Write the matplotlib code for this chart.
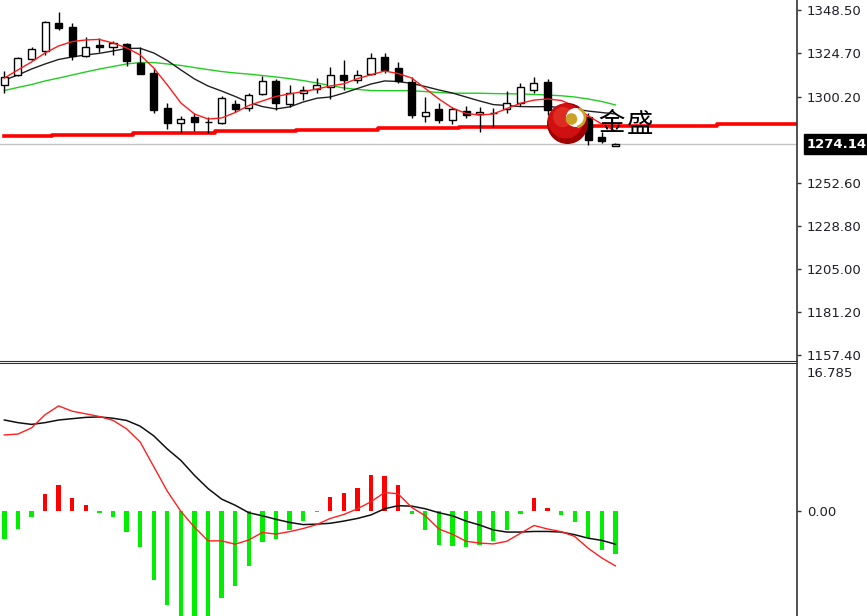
import numpy as np
import matplotlib
matplotlib.use("Agg")
import matplotlib.pyplot as plt
from matplotlib.patches import Circle, Arc
from matplotlib.transforms import blended_transform_factory

plt.rcParams['font.family'] = ['DejaVu Sans', 'Noto Sans CJK SC']

# candles (daily)
opens = [1306.9, 1312.5, 1321.2, 1326.0, 1341.1, 1339.2, 1323.0, 1328.9, 1328.2, 1329.7,
         1319.3, 1313.4, 1294.0, 1286.1, 1289.1, 1286.3, 1285.7, 1296.4, 1294.0, 1302.0,
         1309.3, 1296.4, 1302.7, 1304.6, 1306.0, 1312.5, 1309.7, 1313.0, 1322.3, 1316.2,
         1308.8, 1289.8, 1293.5, 1287.6, 1292.5, 1290.7, 1291.3, 1293.5, 1297.1, 1304.2,
         1308.8, 1292.9, 1290.5, 1289.4, 1278.0, 1273.2]
highs = [1314.9, 1322.5, 1328.2, 1342.4, 1347.6, 1341.5, 1333.4, 1332.8, 1331.2, 1330.3,
         1327.8, 1316.2, 1297.1, 1289.8, 1291.3, 1289.4, 1300.9, 1298.9, 1302.3, 1311.9,
         1310.1, 1307.0, 1306.4, 1310.7, 1317.1, 1320.8, 1315.3, 1324.9, 1324.6, 1319.9,
         1311.5, 1300.5, 1296.8, 1294.9, 1295.3, 1294.6, 1294.0, 1303.8, 1307.9, 1311.2,
         1310.1, 1296.0, 1295.5, 1291.3, 1281.1, 1274.6]
lows = [1302.3, 1312.0, 1320.8, 1323.6, 1337.4, 1320.8, 1322.3, 1325.4, 1323.6, 1317.5,
        1313.0, 1291.6, 1282.4, 1280.5, 1281.6, 1280.5, 1285.3, 1292.2, 1292.7, 1301.4,
        1293.1, 1294.6, 1298.6, 1302.7, 1299.0, 1304.2, 1308.2, 1312.5, 1313.8, 1308.2,
        1288.5, 1286.6, 1286.1, 1285.3, 1288.5, 1281.1, 1283.5, 1291.3, 1295.3, 1302.7,
        1290.3, 1287.5, 1287.0, 1273.7, 1274.6, 1273.2]
closes = [1311.2, 1322.1, 1326.7, 1342.0, 1338.4, 1323.0, 1327.8, 1327.8, 1330.1, 1320.3,
          1313.0, 1293.1, 1286.1, 1287.9, 1286.6, 1286.5, 1299.6, 1293.5, 1301.4, 1309.3,
          1296.8, 1302.4, 1304.2, 1307.0, 1312.5, 1309.7, 1312.5, 1321.7, 1315.3, 1309.2,
          1290.3, 1292.2, 1287.6, 1293.5, 1290.3, 1292.2, 1291.5, 1296.8, 1305.7, 1308.2,
          1292.9, 1290.0, 1294.0, 1276.4, 1276.1, 1274.14]

ma_fast = [1310.8, 1315.3, 1319.7, 1324.7, 1328.6, 1331.0, 1331.9, 1332.2, 1330.2, 1327.5,
           1323.6, 1316.4, 1307.0, 1297.0, 1290.9, 1288.1, 1288.7, 1291.7, 1295.6, 1298.1,
           1300.6, 1302.0, 1303.3, 1304.7, 1306.4, 1307.6, 1310.5, 1312.6, 1314.7, 1313.3,
           1310.8, 1305.0, 1299.2, 1294.2, 1291.2, 1290.3, 1290.9, 1293.9, 1296.8, 1298.6,
           1299.2, 1298.4, 1295.3, 1289.8, 1285.3, 1281.5]
ma_mid = [1309.7, 1312.5, 1315.8, 1318.6, 1321.1, 1322.5, 1323.6, 1324.5, 1325.8, 1327.2,
          1327.3, 1324.7, 1320.5, 1315.3, 1310.3, 1306.4, 1303.6, 1300.6, 1297.3, 1295.0,
          1293.7, 1294.8, 1297.5, 1299.6, 1300.3, 1302.5, 1305.0, 1307.5, 1309.2, 1308.9,
          1307.8, 1306.1, 1304.2, 1302.5, 1300.3, 1298.1, 1296.1, 1295.6, 1295.0, 1294.9,
          1295.0, 1294.5, 1293.7, 1292.5, 1291.7, 1290.9]
ma_slow = [1303.9, 1305.6, 1307.2, 1309.2, 1310.8, 1312.5, 1314.2, 1315.8, 1317.2, 1318.6,
           1319.4, 1319.4, 1318.6, 1317.8, 1316.6, 1315.5, 1314.4, 1313.6, 1313.0, 1312.2,
           1311.4, 1310.5, 1309.4, 1308.1, 1306.7, 1305.3, 1304.5, 1303.9, 1303.8, 1303.8,
           1303.8, 1303.3, 1302.8, 1302.4, 1302.4, 1302.4, 1302.2, 1302.1, 1302.0, 1301.7,
           1301.4, 1301.0, 1300.3, 1299.2, 1297.8, 1295.9]
# thick stepped red line, runs on past the last bar
long_line = [1278.9] * 4 + [1279.4] * 6 + [1280.4] * 6 + [1281.3] * 6 + [1281.9] * 6 + \
            [1282.9] * 6 + [1283.7] * 7 + [1284.1] * 12 + [1285.2] * 7
last_price = 1274.14

# the 1276.40 level sits under the last-price box, so it is left out
price_ticks = [1348.50, 1324.70, 1300.20, 1252.60, 1228.80, 1205.00, 1181.20, 1157.40]

# MACD
dif = [8.6, 8.7, 9.4, 10.9, 11.9, 11.3, 11.0, 10.7, 10.26, 9.3,
       7.8, 5.0, 2.2, -0.1, -1.9, -3.45, -3.45, -3.83, -3.35, -2.5,
       -2.68, -2.4, -2.05, -1.6, -0.9, -0.45, 0.2, 1.0, 2.05, 1.9,
       0.35, -0.6, -2.1, -2.7, -3.5, -3.7, -3.8, -3.5, -2.6, -1.7,
       -2.1, -2.4, -2.95, -4.3, -5.4, -6.3]
dea = [10.3, 10.0, 9.8, 10.0, 10.3, 10.45, 10.6, 10.65, 10.5, 10.25,
       9.6, 8.5, 7.0, 5.7, 4.0, 2.5, 1.3, 0.6, -0.25, -0.6,
       -1.0, -1.35, -1.6, -1.55, -1.45, -1.2, -0.9, -0.5, 0.2, 0.55,
       0.5, 0.2, -0.25, -0.6, -1.2, -1.65, -2.2, -2.45, -2.45, -2.38,
       -2.38, -2.45, -2.75, -3.15, -3.4, -3.83]
hist = [-3.2, -2.07, -0.69, 1.92, 2.87, 1.38, 0.65, -0.25, -0.69, -2.4,
        -4.2, -7.9, -10.8, -13.5, -14.0, -13.0, -9.9, -8.6, -6.3, -3.56,
        -3.2, -2.18, -1.23, -0.15, 1.53, 1.95, 2.6, 4.06, 3.95, 2.87,
        -0.38, -2.26, -3.9, -4.02, -4.2, -3.9, -3.45, -2.18, -0.35, 1.38,
        0.3, -0.54, -1.34, -3.14, -4.48, -4.98]
macd_top = 16.785

W, H = 867, 616
fig = plt.figure(figsize=(W / 100, H / 100), dpi=100)
ax = fig.add_axes([0, 1 - 361 / H, 797 / W, 361 / H])
ax2 = fig.add_axes([0, 0, 797 / W, (H - 363) / H])

x = np.arange(len(opens))
o = np.array(opens); c = np.array(closes)

# candles
ax.vlines(x, lows, highs, color='black', lw=1, zorder=3)
body_lo = np.minimum(o, c)
body_h = np.maximum(np.abs(c - o), 0.15)
faces = ['white' if cc >= oo else 'black' for oo, cc in zip(opens, closes)]
ax.bar(x, body_h, bottom=body_lo, width=0.52, color=faces, edgecolor='black', lw=1, zorder=4)

ax.plot(x, ma_slow, color='#22cc22', lw=1, zorder=2)
ax.plot(x, ma_mid, color='#202020', lw=1, zorder=2)
ax.plot(x, ma_fast, color='#ff1a1a', lw=1, zorder=5)
ax.plot(np.arange(len(long_line)), long_line, color='#ff0000', lw=2.6,
        drawstyle='steps-mid', zorder=2)
ax.axhline(last_price, color='#c4c4c4', lw=1, zorder=1)

ax.set_xlim(-0.32, 58.37)
ax.set_ylim(1154.05, 1354.04)
ax.yaxis.tick_right()
ax.set_yticks(price_ticks)
ax.set_yticklabels([f'{v:.2f}' for v in price_ticks])
ax.set_xticks([])
for a in (ax, ax2):
    a.tick_params(axis='y', direction='out', length=3, width=1, pad=4,
                  labelsize=9.5, labelcolor='#1e1e28', color='#333333')
    a.spines['left'].set_visible(False)
    a.spines['right'].set_color('#333333')
    a.spines['right'].set_linewidth(1.2)
ax.spines['top'].set_visible(False)
ax.spines['bottom'].set_color('#333333')
ax2.spines['bottom'].set_visible(False)
ax2.spines['top'].set_color('#333333')

trans = blended_transform_factory(ax.transAxes, ax.transData)
ax.text(1.0125, last_price, f'{last_price:.2f}', transform=trans, color='white',
        fontsize=9.5, fontweight='bold', va='center', ha='left', zorder=10, clip_on=False,
        bbox=dict(boxstyle='square,pad=0.25', fc='black', ec='black'))

# MACD panel
hcol = ['#ff0000' if v > 0 else '#00ee00' for v in hist]
ax2.bar(x, hist, width=0.32, color=hcol, zorder=2)
ax2.plot(x, dea, color='#101010', lw=1.1, zorder=3)
ax2.plot(x, dif, color='#ff2020', lw=1, zorder=4)
ax2.set_xlim(-0.32, 58.37)
ax2.set_ylim(-12.0, macd_top)
ax2.yaxis.tick_right()
ax2.set_yticks([0])
ax2.set_yticklabels(['0.00'])
ax2.set_xticks([])
ax2.text(1.0115, 0.985, f'{macd_top:.3f}', transform=ax2.transAxes, fontsize=9.5,
         color='#1e1e28', va='top', ha='left', clip_on=False)

# watermark logo
lg = fig.add_axes([535 / W, 1 - 155 / H, 65 / W, 65 / H])
lg.set_xlim(535, 600)
lg.set_ylim(155, 90)
lg.set_aspect('equal')
lg.axis('off')
lg.add_patch(Circle((567.5, 123.5), 20.5, fc='#9e0000', ec='none'))
lg.add_patch(Circle((565.5, 121), 17.5, fc='#d01010', ec='none'))
lg.add_patch(Circle((563, 117), 10, fc='#e84030', ec='none', alpha=0.6))
lg.add_patch(Circle((575.5, 117.5), 9.5, fc='white', ec='none'))
lg.add_patch(Arc((575.5, 117.5), 19, 19, theta1=-70, theta2=80, color='#c9a227', lw=2))
lg.add_patch(Circle((571.5, 119), 5.8, fc='#c9a227', ec='none'))
fig.text(598 / W, 1 - 124 / H, '金', fontsize=19, family='Noto Sans CJK SC', va='center', ha='left')
fig.text(627 / W, 1 - 124 / H, '盛', fontsize=19, family='Noto Sans CJK SC', va='center', ha='left')

fig.savefig('out.png', dpi=100)
